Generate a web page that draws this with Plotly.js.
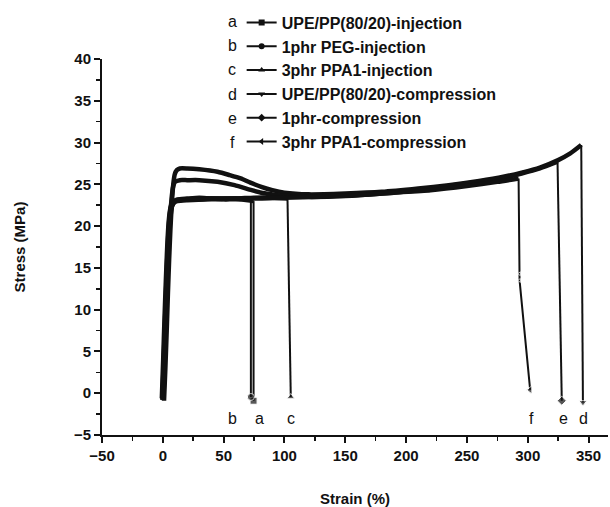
<!DOCTYPE html>
<html>
<head>
<meta charset="utf-8">
<script src="https://cdn.plot.ly/plotly-3.0.1.min.js"></script>
<style>html,body{margin:0;padding:0;background:#fff}#chart{width:610px;height:507px}</style>
</head>
<body>
<div id="chart"></div>
<script>
// ---- Data ----
const seriesNames = ["UPE/PP(80/20)-injection", "1phr PEG-injection", "3phr PPA1-injection",
                     "UPE/PP(80/20)-compression", "1phr-compression", "3phr PPA1-compression"];
const seriesLetters = ["a", "b", "c", "d", "e", "f"];
const seriesSymbols = ["square", "circle", "triangle-up", "triangle-down", "diamond", "triangle-left"];

// curve parts (strain %, stress MPa)
const aX = [0, 1, 2, 3, 4, 5, 6, 7, 9, 12, 20, 30, 40, 50, 60, 70, 74.6];
const aY = [-0.8, 3.5, 8, 12.5, 16.5, 19.5, 21.3, 22.2, 22.8, 23.1, 23.2, 23.2, 23.3, 23.2, 23.2, 23.1, 23.0];
const bX = [-0.8, 0.3, 1.4, 2.5, 3.6, 4.7, 5.8, 7, 9, 12, 20, 30, 40, 50, 60, 70, 72.4];
const bY = [-0.6, 4, 9, 13.5, 17.5, 20.3, 21.8, 22.6, 23.0, 23.2, 23.3, 23.4, 23.3, 23.3, 23.3, 23.2, 23.2];
const cX = [0.4, 1.5, 2.6, 3.7, 4.7, 5.7, 6.7, 7.7, 9.5, 12, 20, 30, 45, 60, 75, 90, 102.5];
const cY = [-0.7, 3.8, 8.5, 13, 17, 20, 21.6, 22.4, 22.9, 23.1, 23.2, 23.3, 23.3, 23.3, 23.4, 23.4, 23.3];
const dX = [1.0, 2.1, 3.2, 4.2, 5.2, 6.2, 7.1, 8.0, 8.9, 9.8, 11.5, 14, 20, 30, 45, 55, 64, 72, 81, 90, 100, 120, 150, 180, 210, 235, 260, 280, 295, 310, 325, 335, 344];
const dY = [-0.9, 3, 7.5, 12, 16, 19.5, 22, 24, 25.4, 26.2, 26.7, 26.9, 26.9, 26.8, 26.5, 26.1, 25.7, 25.2, 24.7, 24.3, 24.0, 23.8, 23.9, 24.1, 24.5, 24.9, 25.4, 25.9, 26.4, 27.0, 27.9, 28.7, 29.7];
const eX = [0.5, 1.5, 2.5, 3.5, 4.5, 5.5, 6.5, 7.4, 8.3, 10, 14, 20, 30, 45, 59, 73, 81, 90, 100, 120, 150, 180, 210, 235, 260, 280, 295, 310, 324.5];
const eY = [-0.7, 3.5, 8, 12.5, 16.5, 19.8, 22, 23.6, 24.6, 25.3, 25.5, 25.5, 25.5, 25.3, 24.9, 24.3, 24.0, 23.8, 23.6, 23.5, 23.6, 23.9, 24.3, 24.8, 25.3, 25.8, 26.3, 26.9, 27.7];
const fX = [-0.4, 0.7, 1.7, 2.8, 3.8, 4.8, 5.8, 6.8, 9, 12, 20, 40, 60, 80, 100, 130, 160, 190, 220, 250, 275, 292.5];
const fY = [-0.8, 3.6, 8.3, 12.8, 16.8, 19.8, 21.5, 22.3, 22.8, 23.0, 23.1, 23.2, 23.3, 23.3, 23.4, 23.5, 23.7, 24.0, 24.3, 24.8, 25.3, 25.7];

// fracture (drop) parts
const aDropX = [74.6, 74.6];   const aDropY = [23.0, -0.9];
const bDropX = [72.4, 72.4];   const bDropY = [23.2, -0.45];
const cDropX = [102.5, 105.2]; const cDropY = [23.3, -0.45];
const dDropX = [344, 345.4];   const dDropY = [29.7, -1.1];
const eDropX = [324.5, 328];   const eDropY = [27.7, -0.9];
const fDropX = [292.5, 293.3, 293.3, 302]; const fDropY = [25.7, 14.3, 13.5, 0.4];

// letter labels near the fracture points
const labelX = [79.3, 57.4, 105.2, 345.9, 329.5, 303.5];
const labelY = [-3, -3, -3, -3, -3, -3];

const xTickVals = [-50, 0, 50, 100, 150, 200, 250, 300, 350];
const yTickVals = [-5, 0, 5, 10, 15, 20, 25, 30, 35, 40];

// ---- Build traces ----
const curvesX = [aX, bX, cX, dX, eX, fX];
const curvesY = [aY, bY, cY, dY, eY, fY];
const dropsX = [aDropX, bDropX, cDropX, dDropX, eDropX, fDropX];
const dropsY = [aDropY, bDropY, cDropY, dDropY, eDropY, fDropY];
const FONT = '"Liberation Sans", Arial, Helvetica, sans-serif';
const INK = '#111111';

const traces = [];
// legend entries (no data of their own)
for (let i = 0; i < 6; i++) {
  traces.push({
    x: [null], y: [null], type: 'scatter', mode: 'lines+markers',
    name: seriesNames[i],
    line: {color: INK, width: 2},
    marker: {symbol: seriesSymbols[i], size: 6, color: INK},
    hoverinfo: 'skip'
  });
}
for (let i = 0; i < 6; i++) {
  const n = dropsX[i].length;
  const sizes = dropsX[i].map((_, k) => k === n - 1 ? 7 : (k === 0 ? 0 : 3.5));
  traces.push({
    x: dropsX[i], y: dropsY[i], type: 'scatter', mode: 'lines+markers',
    showlegend: false,
    line: {color: INK, width: 2},
    marker: {symbol: seriesSymbols[i], size: sizes, color: INK},
    hoverinfo: 'skip'
  });
}
for (let i = 0; i < 6; i++) {
  traces.push({
    x: curvesX[i], y: curvesY[i], type: 'scatter', mode: 'lines',
    showlegend: false,
    line: {color: INK, width: 4.5, shape: 'spline', smoothing: 0.6},
    hoverinfo: 'skip'
  });
}

const annotations = [];
for (let i = 0; i < 6; i++) {
  annotations.push({
    x: labelX[i], y: labelY[i], xref: 'x', yref: 'y', text: seriesLetters[i],
    showarrow: false, font: {family: FONT, size: 16, color: INK}
  });
}
// legend letter prefixes, aligned with the legend rows
const row0Px = 21.5, rowStepPx = 24.2, plotBottomPx = 435, plotHeightPx = 376;
for (let i = 0; i < 6; i++) {
  annotations.push({
    x: 0.257, y: (plotBottomPx - (row0Px + i * rowStepPx)) / plotHeightPx,
    xref: 'paper', yref: 'paper', text: seriesLetters[i],
    showarrow: false, xanchor: 'center', yanchor: 'middle',
    font: {family: FONT, size: 16, color: INK}
  });
}

const layout = {
  width: 610, height: 507,
  margin: {l: 102, r: 2, t: 59, b: 72},
  paper_bgcolor: '#fff', plot_bgcolor: '#fff',
  font: {family: FONT, color: INK},
  showlegend: true,
  legend: {
    x: 0.276, y: 1.142, xanchor: 'left', yanchor: 'top',
    bgcolor: 'rgba(0,0,0,0)', borderwidth: 0,
    font: {family: FONT, size: 16, color: INK, weight: 'bold'},
    itemwidth: 30
  },
  xaxis: {
    range: [-50, 366], showgrid: false, zeroline: false,
    showline: true, linewidth: 2, linecolor: INK,
    ticks: 'outside', ticklen: 6, tickwidth: 2, tickcolor: INK,
    tickvals: xTickVals,
    minor: {dtick: 25, ticks: 'outside', ticklen: 4, tickwidth: 1.5, tickcolor: INK},
    tickfont: {family: FONT, size: 15, color: INK, weight: 'bold'},
    title: {text: 'Strain (%)', standoff: 30, font: {family: FONT, size: 15, color: INK, weight: 'bold'}},
    automargin: false
  },
  yaxis: {
    range: [-5, 40], showgrid: false, zeroline: false,
    showline: true, linewidth: 2, linecolor: INK,
    ticks: 'outside', ticklen: 6, tickwidth: 2, tickcolor: INK,
    tickvals: yTickVals,
    minor: {dtick: 2.5, ticks: 'outside', ticklen: 4, tickwidth: 1.5, tickcolor: INK},
    tickfont: {family: FONT, size: 15, color: INK, weight: 'bold'},
    title: {text: 'Stress (MPa)', standoff: 45, font: {family: FONT, size: 15, color: INK, weight: 'bold'}},
    automargin: false
  },
  annotations: annotations
};

Plotly.newPlot('chart', traces, layout, {displayModeBar: false, staticPlot: true});
</script>
</body>
</html>
